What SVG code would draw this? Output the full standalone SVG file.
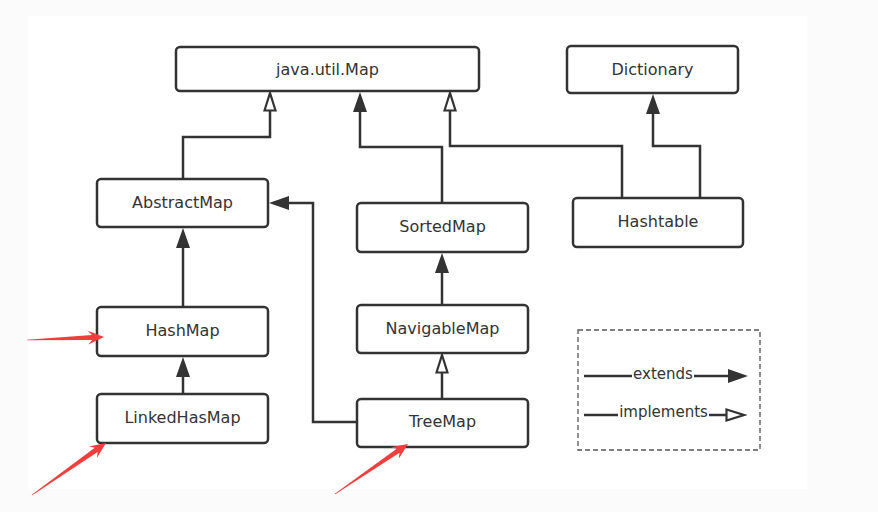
<svg xmlns="http://www.w3.org/2000/svg" width="878" height="512" viewBox="0 0 878 512">
<style>
.box{fill:#fff;stroke:#333;stroke-width:2.5}
.lbl{font-family:"DejaVu Sans",sans-serif;font-size:16px;fill:#333;text-anchor:middle}
.leg{font-family:"DejaVu Sans",sans-serif;font-size:15px;fill:#333;text-anchor:middle}
.ext{fill:none;stroke:#333;stroke-width:2.5;marker-end:url(#filled)}
.imp{fill:none;stroke:#333;stroke-width:2.5;marker-end:url(#hollow)}
.ln{fill:none;stroke:#333;stroke-width:2.5}
.red{fill:#f23d3d}
</style>
<defs>
<marker id="filled" markerUnits="userSpaceOnUse" markerWidth="22" markerHeight="16" refX="12" refY="7" orient="auto">
<path d="M0,0 L20,7 L0,14 z" fill="#333"/>
</marker>
<marker id="hollow" markerUnits="userSpaceOnUse" markerWidth="22" markerHeight="16" refX="12" refY="7" orient="auto">
<path d="M1.5,1.5 L19,7 L1.5,12.5 z" fill="#fff" stroke="#333" stroke-width="2.2"/>
</marker>
</defs>
<rect x="0" y="0" width="878" height="512" fill="#fbfbfb"/>
<rect x="28" y="16" width="779" height="473" fill="#fff"/>

<g id="connectors">
<path class="imp" d="M183,179 V137 H270 V100"/>
<path class="ext" d="M442,203 V147 H360 V100"/>
<path class="imp" d="M622,198 V146 H450 V100"/>
<path class="ext" d="M700,198 V146 H653 V102"/>
<path class="ext" d="M183,307 V236"/>
<path class="ext" d="M183,394 V365"/>
<path class="ext" d="M357,422 H313 V203 H277"/>
<path class="ext" d="M442,305 V261"/>
<path class="imp" d="M442,399 V362"/>
</g>

<g id="map"><rect class="box" x="176" y="47" width="303" height="44" rx="4"/><text class="lbl" x="327.5" y="75">java.util.Map</text></g>
<g id="dictionary"><rect class="box" x="567" y="46" width="171" height="47" rx="4"/><text class="lbl" x="652.5" y="75">Dictionary</text></g>
<g id="hashtable"><rect class="box" x="573" y="198" width="170" height="49" rx="4"/><text class="lbl" x="658" y="227">Hashtable</text></g>
<g id="abstractmap"><rect class="box" x="97" y="179" width="171" height="48" rx="4"/><text class="lbl" x="182.5" y="208">AbstractMap</text></g>
<g id="hashmap"><rect class="box" x="97" y="307" width="171" height="49" rx="4"/><text class="lbl" x="182.5" y="336">HashMap</text></g>
<g id="linkedhasmap"><rect class="box" x="97" y="394" width="171" height="49" rx="4"/><text class="lbl" x="182.5" y="423">LinkedHasMap</text></g>
<g id="sortedmap"><rect class="box" x="357" y="203" width="171" height="49" rx="4"/><text class="lbl" x="442.5" y="232">SortedMap</text></g>
<g id="navigablemap"><rect class="box" x="357" y="305" width="171" height="48" rx="4"/><text class="lbl" x="442.5" y="334">NavigableMap</text></g>
<g id="treemap"><rect class="box" x="357" y="399" width="171" height="48" rx="4"/><text class="lbl" x="442.5" y="427">TreeMap</text></g>

<g id="legend">
<rect x="578" y="330" width="182" height="120" fill="none" stroke="#555" stroke-width="1.3" stroke-dasharray="5,3"/>
<path class="ln" d="M584,376 H632"/>
<text class="leg" x="663" y="379">extends</text>
<path class="ext" d="M694,376 H740"/>
<path class="ln" d="M584,415 H618"/>
<text class="leg" x="663.5" y="417">implements</text>
<path class="imp" d="M709,415 H737"/>
</g>

<g id="red-arrows">
<polygon class="red" points="27.01,340.3 92.11,339.97 88.28,344.62 104,337 87.74,330.63 91.91,334.97 26.99,339.7"/>
<polygon class="red" points="32.23,495.33 97.62,451.95 96.93,457.93 106,443 88.88,446.47 94.74,447.85 31.77,494.67"/>
<polygon class="red" points="335.23,494.33 399.51,452.84 398.76,458.82 408,444 390.84,447.27 396.69,448.72 334.77,493.67"/>
</g>
</svg>
